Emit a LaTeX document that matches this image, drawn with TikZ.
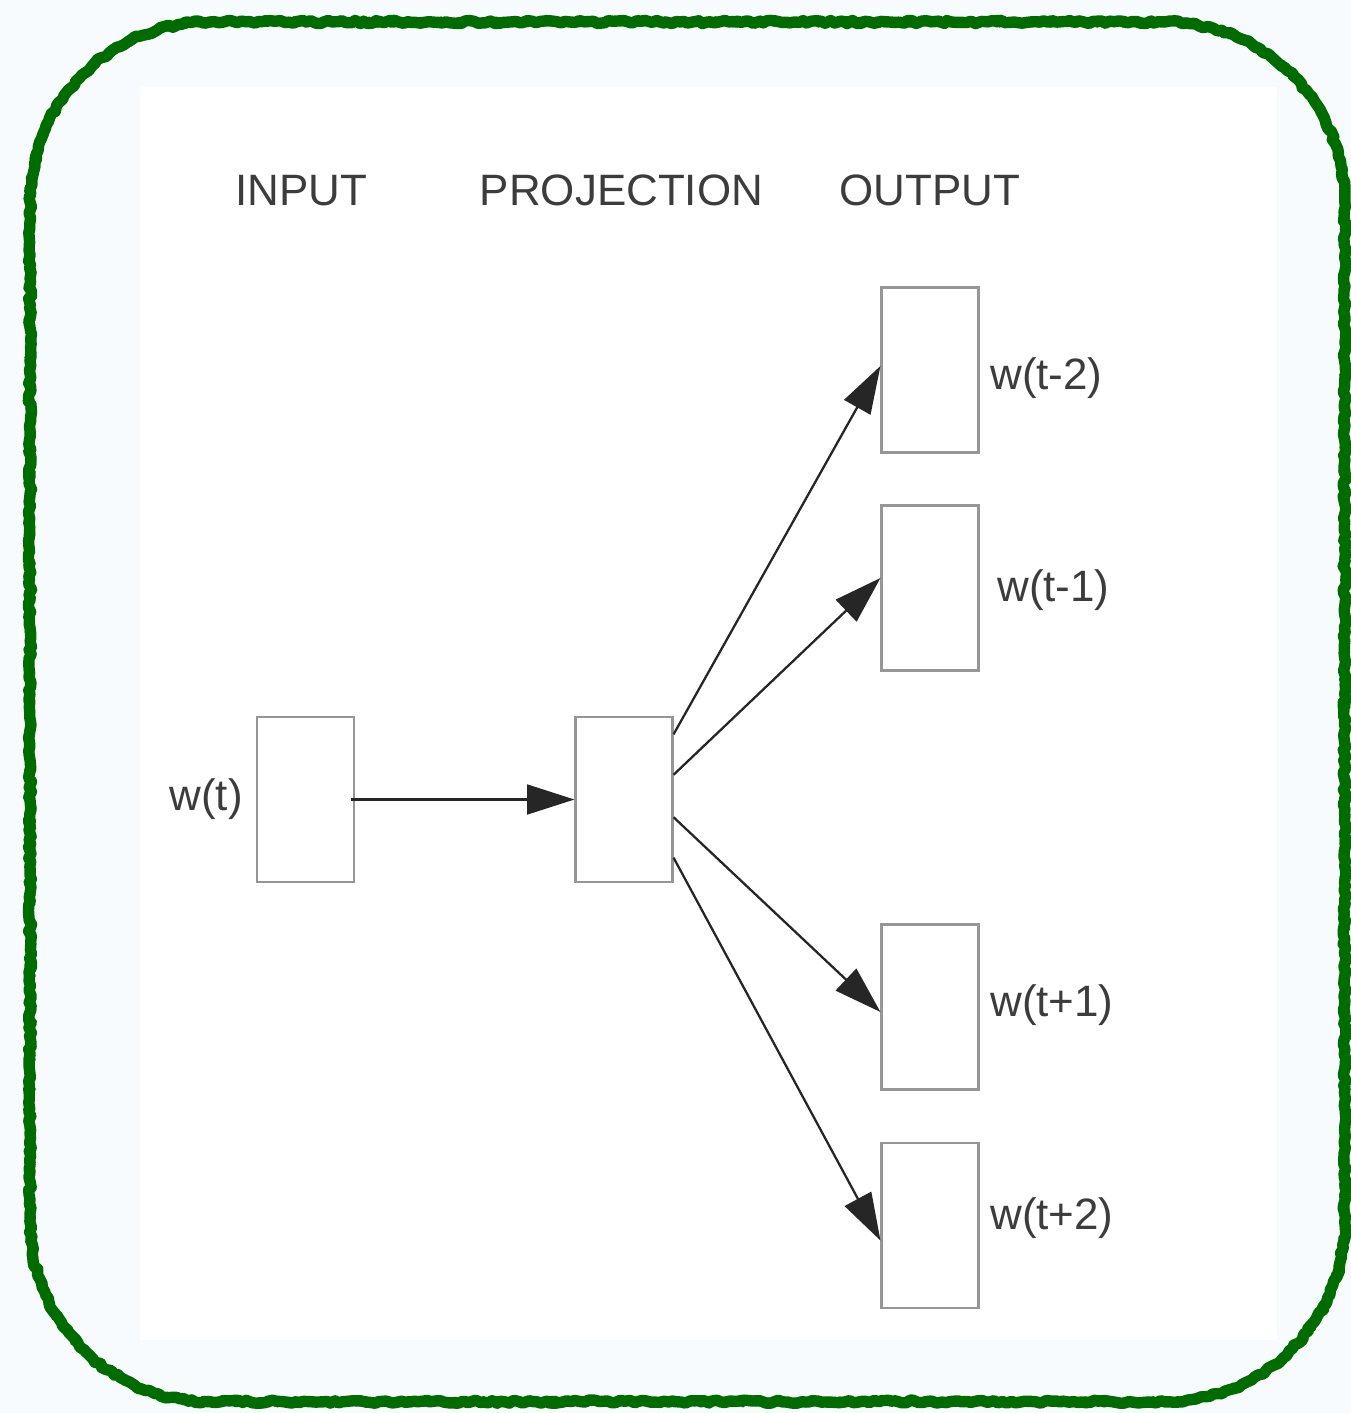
\documentclass[tikz,border=0pt]{standalone}
\usepackage{fontspec}
\setmainfont{Liberation Sans}
\usetikzlibrary{arrows.meta,calc,decorations.pathmorphing}
\definecolor{bordergreen}{RGB}{0,108,0}
\definecolor{boxgray}{RGB}{150,150,150}
\definecolor{txt}{RGB}{60,60,60}
\definecolor{bgout}{RGB}{247,251,253}
\begin{document}
\begin{tikzpicture}[x=0.02cm,y=-0.02cm,
  unit/.style={draw=boxgray, line width=1.2pt, fill=white, minimum width=1.94cm, minimum height=3.3cm, inner sep=0pt},
  lab/.style={text=txt, font=\fontsize{25}{30}\selectfont, inner sep=0pt},
  head/.style={lab},
  conn/.style={draw=black!85, line width=1.3pt, -{Triangle[length=27pt,width=17pt]}},
  rough/.style={draw=bordergreen, line join=round, line cap=round, decorate, decoration={random steps, segment length=2.5pt, amplitude=0.9pt}}]
\useasboundingbox (0,0) rectangle (1351,1413);
\fill[bgout] (0,0) rectangle (1351,1413);
\fill[white] (140,87) rectangle (1277,1340);
\pgfmathsetseed{7}
\begin{scope}[x=1cm,y=1cm]
\draw[rough, line width=6.5pt] (4.2,-0.44) -- (23.3,-0.44) arc[start angle=90,end angle=0,radius=3.6] -- (26.9,-24.44) arc[start angle=0,end angle=-90,radius=3.6] -- (4.2,-28.04) arc[start angle=-90,end angle=-180,radius=3.6] -- (0.6,-4.04) arc[start angle=180,end angle=90,radius=3.6] -- cycle;
\draw[rough, line width=3.5pt, decoration={random steps, segment length=1.5pt, amplitude=1.6pt}] (4.2,-0.44) -- (23.3,-0.44) arc[start angle=90,end angle=0,radius=3.6] -- (26.9,-24.44) arc[start angle=0,end angle=-90,radius=3.6] -- (4.2,-28.04) arc[start angle=-90,end angle=-180,radius=3.6] -- (0.6,-4.04) arc[start angle=180,end angle=90,radius=3.6] -- cycle;
\end{scope}

\node[unit] (in) at (305.5,799.5) {};
\node[unit] (proj) at (624,799.5) {};
\node[unit] (o1) at (930,370) {};
\node[unit] (o2) at (930,588) {};
\node[unit] (o3) at (930,1007) {};
\node[unit] (o4) at (930,1225.5) {};

\node[head, anchor=base] (hin) at (301,205) {INPUT};
\node[head, anchor=base] (hproj) at (621.5,205) {PROJECTION};
\node[head, anchor=base] (hout) at (930,205) {OUTPUT};

\node[lab, anchor=east] (lin) at (243,799) {w(t)};
\node[lab, anchor=west] (l1) at (990,378) {w(t-2)};
\node[lab, anchor=west] (l2) at (997,590) {w(t-1)};
\node[lab, anchor=west] (l3) at (990,1005) {w(t+1)};
\node[lab, anchor=west] (l4) at (990,1218) {w(t+2)};

\draw[conn] ($(in.east)+(-4,0)$) -- (proj.west);
\draw[conn] ($(proj.north east)!0.11!(proj.south east)$) -- ($(o1.north west)!0.476!(o1.south west)$);
\draw[conn] ($(proj.north east)!0.352!(proj.south east)$) -- ($(o2.north west)!0.44!(o2.south west)$);
\draw[conn] ($(proj.north east)!0.606!(proj.south east)$) -- ($(o3.north west)!0.53!(o3.south west)$);
\draw[conn] ($(proj.north east)!0.848!(proj.south east)$) -- ($(o4.north west)!0.59!(o4.south west)$);
\end{tikzpicture}
\end{document}
